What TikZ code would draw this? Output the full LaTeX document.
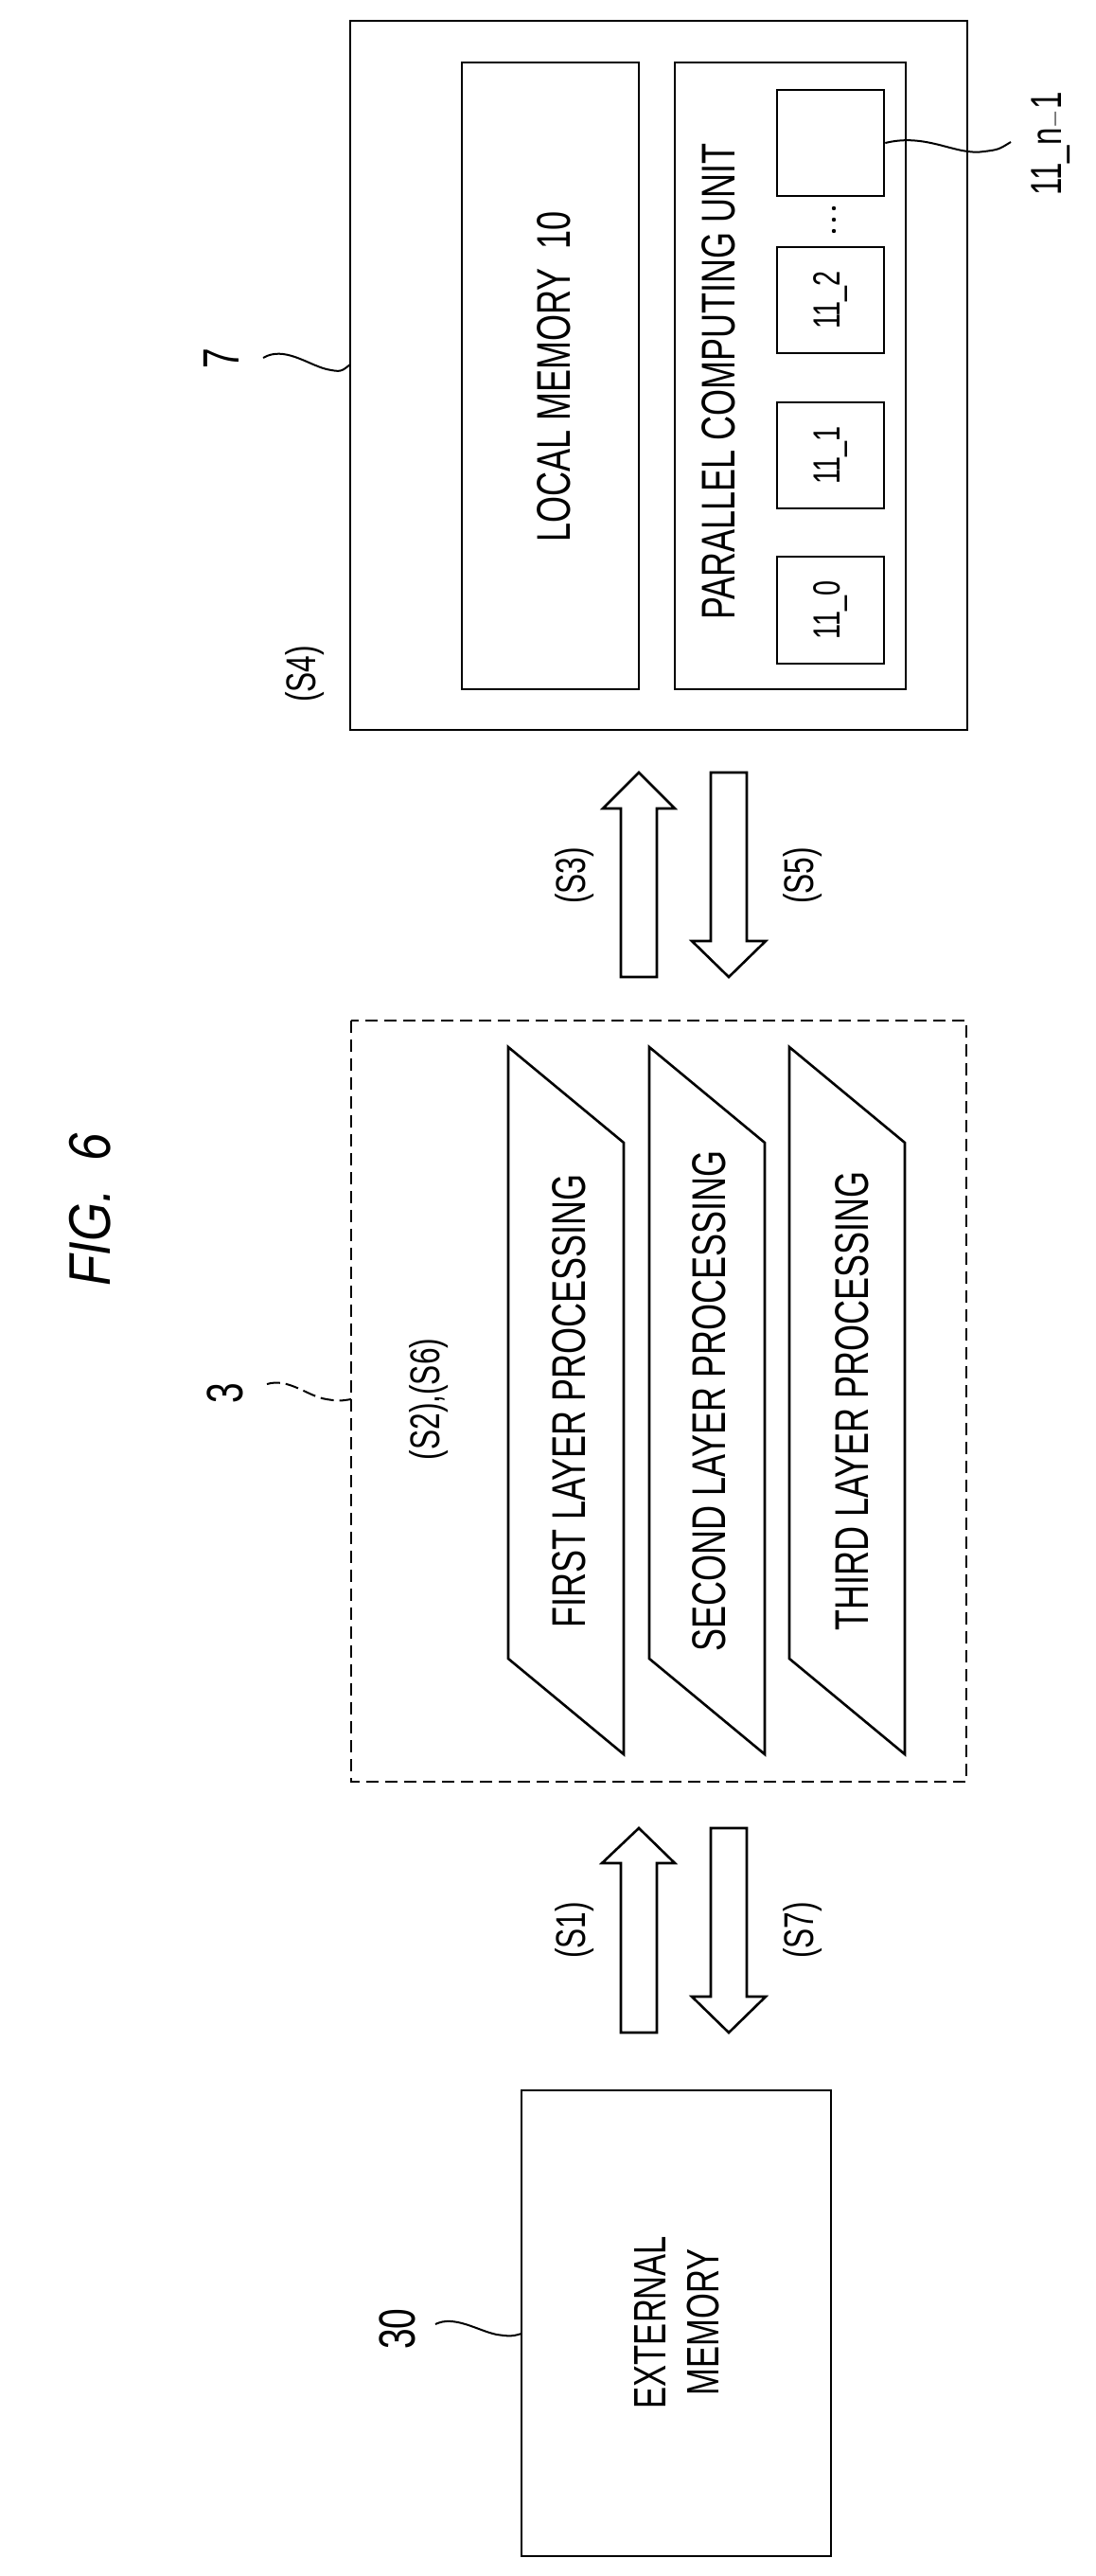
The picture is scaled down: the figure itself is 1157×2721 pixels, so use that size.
\documentclass[tikz,border=0pt]{standalone}
\usepackage{fontspec}
\setmainfont{Liberation Sans}[FakeStretch=0.72]
\newfontfamily\figfont{Liberation Sans}[FakeStretch=0.85]
\begin{document}
\begin{tikzpicture}[x=1pt,y=-1pt,
  box/.style={draw,line width=2.6pt},
  dbox/.style={draw,line width=2.4pt,dash pattern=on 13pt off 7pt},
  lbl/.style={rotate=90,font=\fontsize{50}{50}\selectfont,inner sep=0pt},
  slbl/.style={rotate=90,font=\fontsize{44}{44}\selectfont,inner sep=0pt},
  cell/.style={rotate=90,font=\fontsize{40}{40}\selectfont,inner sep=0pt},
  lead/.style={line width=2pt},
  barrow/.style={draw,line width=2.6pt,line join=miter,fill=white}]
\useasboundingbox (0,0) rectangle (1157,2721);
% box 7
\draw[box] (370,22) rectangle (1022,771);
\coordinate (b7) at (370,385);
\draw[box] (488,66) rectangle (675,728);
\node[lbl] (lm) at (585,398) {LOCAL MEMORY\ \ 10};
\draw[box] (713,66) rectangle (957,728);
\node[lbl] (pcu) at (759,403) {PARALLEL COMPUTING UNIT};
\node[box,minimum width=113pt,minimum height=113pt,inner sep=0pt] (c0) at (877.5,644.5) {};
\node[cell] at (c0) {11\_0};
\node[box,minimum width=113pt,minimum height=112pt,inner sep=0pt] (c1) at (877.5,481) {};
\node[cell] at (c1) {11\_1};
\node[box,minimum width=113pt,minimum height=112pt,inner sep=0pt] (c2) at (877.5,317) {};
\node[cell] at (c2) {11\_2};
\node[box,minimum width=113pt,minimum height=112pt,inner sep=0pt] (cn) at (877.5,151) {};
\foreach \yy in {220,232,244} \fill (881,\yy) circle (2.2pt);
\node[lbl,font=\fontsize{46}{46}\selectfont] (ln) at (1110,152) {11\_n$-$1};
\draw[lead] (cn.east) .. controls (980,140) and (1010,165) .. (1040,160) .. controls (1055,158) .. (1068,150);
\node[lbl,font=\fontsize{54}{54}\selectfont] (l7) at (234,379) {7};
\draw[lead] (278,378) .. controls (300,365) and (325,385) .. (345,390) .. controls (360,393) .. (b7);
\node[slbl] (s4) at (322,712) {(S4)};
% arrows S3 / S5
\draw[barrow] (656,1032) -- (656,854) -- (637,854) -- (675,816) -- (713,854) -- (694,854) -- (694,1032) -- cycle;
\draw[barrow] (751,816) -- (751,994) -- (731,994) -- (770,1032) -- (809,994) -- (789,994) -- (789,816) -- cycle;
\node[slbl] (s3) at (607,925) {(S3)};
\node[slbl] (s5) at (848,925) {(S5)};
% dashed box 3
\draw[dbox] (371,1078) rectangle (1021,1882);
\coordinate (b3) at (371,1478);
\node[lbl,font=\fontsize{54}{54}\selectfont] (l3) at (238,1472) {3};
\draw[lead,dash pattern=on 14pt off 6pt] (282,1462) .. controls (305,1455) and (325,1475) .. (345,1478) .. controls (358,1480) .. (b3);
\node[slbl] (s26) at (453,1478) {(S2),(S6)};
\draw[box,line join=miter] (537,1106) -- (659,1207) -- (659,1853) -- (537,1752) -- cycle;
\node[lbl] (p1) at (601,1480) {FIRST LAYER PROCESSING};
\draw[box,line join=miter] (686,1106) -- (808,1207) -- (808,1853) -- (686,1752) -- cycle;
\node[lbl] (p2) at (749,1480) {SECOND LAYER PROCESSING};
\draw[box,line join=miter] (834,1106) -- (956,1207) -- (956,1853) -- (834,1752) -- cycle;
\node[lbl] (p3) at (900,1480) {THIRD LAYER PROCESSING};
% arrows S1 / S7
\draw[barrow] (656,2147) -- (656,1968) -- (636,1968) -- (675,1931) -- (713,1968) -- (694,1968) -- (694,2147) -- cycle;
\draw[barrow] (751,1931) -- (751,2109) -- (731,2109) -- (770,2147) -- (809,2109) -- (789,2109) -- (789,1931) -- cycle;
\node[slbl] (s1) at (607,2039) {(S1)};
\node[slbl] (s7) at (848,2039) {(S7)};
% external memory
\draw[box] (551,2208) rectangle (878,2700);
\coordinate (b30) at (551,2465);
\node[lbl,align=center,font=\fontsize{48}{56}\selectfont] (em) at (715,2453) {EXTERNAL\\MEMORY};
\node[lbl,font=\fontsize{54}{54}\selectfont] (l30) at (420,2460) {30};
\draw[lead] (460,2455) .. controls (480,2445) and (505,2462) .. (525,2466) .. controls (540,2468) .. (b30);
% title
\node[rotate=90,inner sep=0pt,font=\figfont\itshape\fontsize{62}{62}\selectfont] (title) at (95,1278) {FIG.\ \ 6};
\end{tikzpicture}
\end{document}
